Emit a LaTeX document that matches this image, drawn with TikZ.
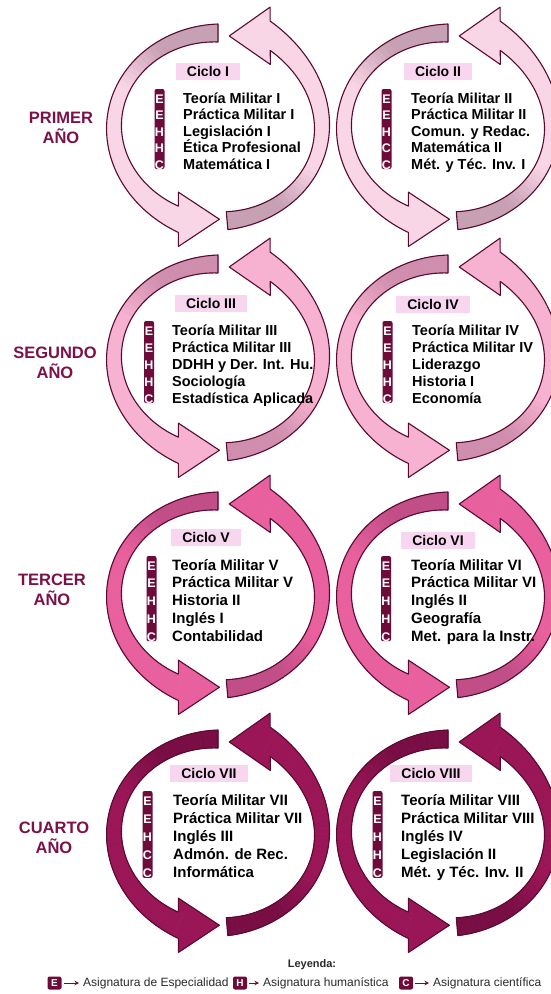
\documentclass[tikz,border=0pt]{standalone}
\usepackage{fontspec}
\setmainfont{Liberation Sans}
\usetikzlibrary{calc,arrows.meta}

\definecolor{ringedge}{HTML}{5A0A30}
\definecolor{badgered}{HTML}{6D0B3A}
\definecolor{yearred}{HTML}{7A1148}
\definecolor{labelbg}{HTML}{F8D6F0}
\definecolor{legendgray}{HTML}{2A2A2A}
% ring colours per year: pale head part, deep tail part
\definecolor{paleA}{HTML}{F9D6E6}\definecolor{deepA}{HTML}{C6A0B3}
\definecolor{paleB}{HTML}{F6B2D0}\definecolor{deepB}{HTML}{D08EAE}
\definecolor{paleC}{HTML}{E8609D}\definecolor{deepC}{HTML}{C24E87}
\definecolor{paleD}{HTML}{9A1657}\definecolor{deepD}{HTML}{790E45}

\tikzset{
  ringline/.style={draw=ringedge, line width=1.1pt, line join=round},
  cyclabel/.style={fill=labelbg, font=\bfseries\fontsize{14}{16}\selectfont,
    inner xsep=11pt, inner ysep=0pt, minimum height=17pt},
  badgebox/.style={fill=badgered, rounded corners=2pt, minimum width=10pt, inner sep=0pt},
  badgeletter/.style={text=white, font=\bfseries\fontsize{12.5}{12.5}\selectfont, inner sep=0pt},
  subj/.style={text=black, inner sep=0pt},
  yearlabel/.style={text=yearred, font=\bfseries\fontsize{16.5}{20.5}\selectfont, align=center, inner sep=0pt},
  legbadge/.style={fill=badgered, rounded corners=2pt, minimum width=14pt, minimum height=13pt,
    inner sep=0pt, text=white, font=\bfseries\fontsize{10}{10}\selectfont},
  legtext/.style={text=legendgray, font=\fontsize{12}{14}\selectfont, inner sep=0pt, anchor=west},
  legarrow/.style={draw=badgered, line width=0.8pt, -{Stealth[length=4.5pt,width=4.5pt]},
    shorten <=2pt, shorten >=4pt},
}

% One curved arrow of a cycle.
% #1,#2 centre; #3 tail angle; #4 neck angle; #5 outer neck angle; #6 inner neck angle;
% #7 swell of the vertical radius toward the head; #8 pale colour; #9 deep colour
\newcommand\ringarrow[9]{%
  \foreach \i in {0,...,47}{%
    \pgfmathsetmacro\aa{#3+(#4-#3)*\i/48}%
    \pgfmathsetmacro\ab{#3+(#4-#3)*(\i+1)/48}%
    \pgfmathtruncatemacro\mixp{min(100,max(0,(\i/48-0.2)*500))}%
    \fill[#8!\mixp!#9, draw=#8!\mixp!#9, line width=0.5pt, line join=round]
      ({#1+edgex(\aa,#3,#4,1)*cos(\aa)},{#2-edgey(\aa,#3,#4,1,#7)*sin(\aa)}) --
      ({#1+edgex(\ab,#3,#4,1)*cos(\ab)},{#2-edgey(\ab,#3,#4,1,#7)*sin(\ab)}) --
      ({#1+edgex(\ab,#3,#4,-1)*cos(\ab)},{#2-edgey(\ab,#3,#4,-1,#7)*sin(\ab)}) --
      ({#1+edgex(\aa,#3,#4,-1)*cos(\aa)},{#2-edgey(\aa,#3,#4,-1,#7)*sin(\aa)}) -- cycle;
  }%
  \coordinate (O) at ({#1+edgex(#5,#3,#4,1)*cos(#5)},{#2-edgey(#5,#3,#4,1,#7)*sin(#5)});
  \coordinate (I) at ({#1+edgex(#6,#3,#4,-1)*cos(#6)},{#2-edgey(#6,#3,#4,-1,#7)*sin(#6)});
  \coordinate (NO) at ({#1+edgex(#4,#3,#4,1)*cos(#4)},{#2-edgey(#4,#3,#4,1,#7)*sin(#4)});
  \coordinate (NI) at ({#1+edgex(#4,#3,#4,-1)*cos(#4)},{#2-edgey(#4,#3,#4,-1,#7)*sin(#4)});
  \coordinate (M) at ($(O)!0.5!(I)$);
  \coordinate (T) at ($(M)!41pt!90:(O)$);
  \coordinate (BO) at ($(O)!-14pt!(I)$);
  \coordinate (BI) at ($(I)!-14pt!(O)$);
  \fill[#8] (NO) -- (O) -- (BO) -- (T) -- (BI) -- (I) -- (NI) -- cycle;
  \draw[ringline]
    plot[domain=#3:#5, samples=70] ({#1+edgex(\x,#3,#4,1)*cos(\x)},{#2-edgey(\x,#3,#4,1,#7)*sin(\x)})
    -- (BO) -- (T) -- (BI) --
    plot[domain=#6:#3, samples=70] ({#1+edgex(\x,#3,#4,-1)*cos(\x)},{#2-edgey(\x,#3,#4,-1,#7)*sin(\x)})
    -- cycle;
}

% Both arrows of one cycle around centre (#1,#2)
\newcommand\ringpair[4]{%
  \ringarrow{#1}{#2}{90}{247.68}{250.09}{244.58}{0.06}{#3}{#4}%
  \ringarrow{#1}{#2}{275}{420}{423.37}{415.58}{0.12}{#3}{#4}%
}

% Subject list with its letter badge.
% #1 text x; #2 badge x; #3 first baseline; #4 line step; #5 font size; #6 letter/subject list; #7 name prefix
\newcommand\subjlist[7]{%
  \node[badgebox, minimum height={4*#4+14}] (#7-badge) at (#2,{#3+2*#4-7}) {};
  \foreach \lt/\st [count=\k from 0] in {#6}{%
    \node[badgeletter, anchor=base] (#7-l\k) at (#2,{#3+\k*#4}) {\lt};
    \node[subj, font=\bfseries\fontsize{#5}{#5}\selectfont, anchor=base west] (#7-s\k) at (#1,{#3+\k*#4}) {\st};
  }%
}

\begin{document}
\begin{tikzpicture}[x=1pt, y=-1pt,
  declare function={
    hw(\u)=9-10.33*\u+13.33*\u*\u;
    tt(\pa,\ps,\pb)=(\pa-\ps)/(\pb-\ps);
    edgex(\pa,\ps,\pb,\pk)=104+\pk*hw(tt(\pa,\ps,\pb));
    edgey(\pa,\ps,\pb,\pk,\pg)=94*(1+\pg*tt(\pa,\ps,\pb)*tt(\pa,\ps,\pb)*tt(\pa,\ps,\pb))+\pk*hw(tt(\pa,\ps,\pb));
  }]
  \fill[white] (0,0) rectangle (551,994);
  \useasboundingbox (0,0) rectangle (551,994);

  % cycles, one row per year
  \ringpair{218}{127}{paleA}{deepA}
  \ringpair{448}{127}{paleA}{deepA}
  \ringpair{218}{358}{paleB}{deepB}
  \ringpair{448}{358}{paleB}{deepB}
  \ringpair{218}{595}{paleC}{deepC}
  \ringpair{448}{595}{paleC}{deepC}
  \ringpair{218}{833}{paleD}{deepD}
  \ringpair{448}{833}{paleD}{deepD}

  % year labels
  \node[yearlabel] (year1) at (61,128) {PRIMER\\AÑO};
  \node[yearlabel] (year2) at (55,363) {SEGUNDO\\AÑO};
  \node[yearlabel] (year3) at (52,590) {TERCER\\AÑO};
  \node[yearlabel] (year4) at (54,838) {CUARTO\\AÑO};

  % cycle titles
  \node[cyclabel] (ciclo1) at (208,71) {Ciclo I};
  \node[cyclabel] (ciclo2) at (438,71) {Ciclo II};
  \node[cyclabel] (ciclo3) at (211,303) {Ciclo III};
  \node[cyclabel] (ciclo4) at (433,304) {Ciclo IV};
  \node[cyclabel] (ciclo5) at (206,537) {Ciclo V};
  \node[cyclabel] (ciclo6) at (438,540) {Ciclo VI};
  \node[cyclabel] (ciclo7) at (209,773) {Ciclo VII};
  \node[cyclabel] (ciclo8) at (431,773) {Ciclo VIII};

  % subjects
  \subjlist{183}{159.5}{103}{16.5}{14.5}{E/Teoría Militar I,E/Práctica Militar I,H/Legislación I,H/Ética Profesional,C/Matemática I}{c1}
  \subjlist{411}{386.5}{103}{16.5}{14.5}{E/Teoría Militar II,E/Práctica Militar II,H/Comun. y Redac.,C/Matemática II,C/Mét. y Téc. Inv. I}{c2}
  \subjlist{172}{149}{335}{17}{14.5}{E/Teoría Militar III,E/Práctica Militar III,H/DDHH y Der. Int. Hu.,H/Sociología,C/Estadística Aplicada}{c3}
  \subjlist{412}{387.5}{335}{17}{14.5}{E/Teoría Militar IV,E/Práctica Militar IV,H/Liderazgo,H/Historia I,C/Economía}{c4}
  \subjlist{172}{151.5}{570}{17.8}{15}{E/Teoría Militar V,E/Práctica Militar V,H/Historia II,H/Inglés I,C/Contabilidad}{c5}
  \subjlist{411}{386}{570}{17.8}{15}{E/Teoría Militar VI,E/Práctica Militar VI,H/Inglés II,H/Geografía,C/Met. para la Instr.}{c6}
  \subjlist{173}{147.5}{805}{18.2}{15}{E/Teoría Militar VII,E/Práctica Militar VII,H/Inglés III,C/Admón. de Rec.,C/Informática}{c7}
  \subjlist{401}{377.5}{805}{18.2}{15}{E/Teoría Militar VIII,E/Práctica Militar VIII,H/Inglés IV,H/Legislación II,C/Mét. y Téc. Inv. II}{c8}

  % legend
  \node[font=\bfseries\fontsize{11}{13}\selectfont, text=legendgray] (legend) at (312,965) {Leyenda:};
  \node[legbadge] (legE) at (54.5,983) {E};
  \node[legtext] (legEt) at (83,983) {Asignatura de Especialidad};
  \node[legbadge] (legH) at (240,983) {H};
  \node[legtext] (legHt) at (263,983) {Asignatura humanística};
  \node[legbadge] (legC) at (406,983) {C};
  \node[legtext] (legCt) at (433,983) {Asignatura científica};
  \draw[legarrow] (legE) -- (legEt);
  \draw[legarrow] (legH) -- (legHt);
  \draw[legarrow] (legC) -- (legCt);
\end{tikzpicture}
\end{document}
